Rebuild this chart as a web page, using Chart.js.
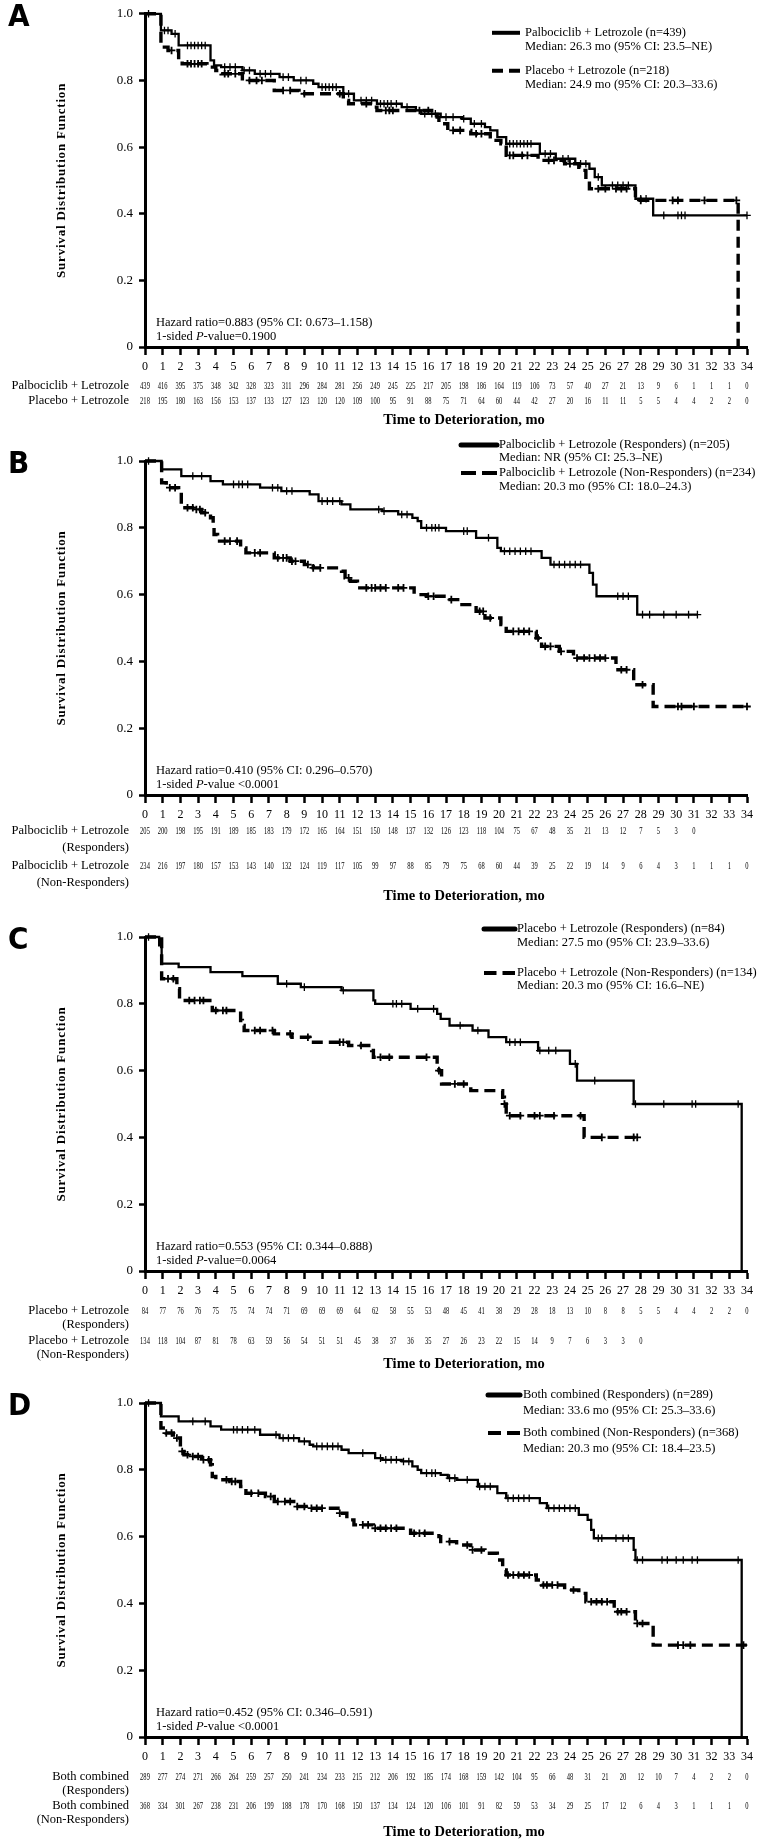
<!DOCTYPE html>
<html>
<head>
<meta charset="utf-8">
<script src="https://cdn.jsdelivr.net/npm/chart.js@4.4.1/dist/chart.umd.min.js"></script>
<style>
  body { margin: 0; background: #fff; }
  #wrap { position: relative; width: 761px; height: 1843px; }
  canvas { position: absolute; left: 0; }
</style>
</head>
<body>
<div id="wrap">
  <canvas id="cA"></canvas>
  <canvas id="cB"></canvas>
  <canvas id="cC"></canvas>
  <canvas id="cD"></canvas>
</div>
<script>
// tick labels of the time axis (months)
const months = [0,1,2,3,4,5,6,7,8,9,10,11,12,13,14,15,16,17,18,19,20,21,22,23,24,25,26,27,28,29,30,31,32,33,34];
const survTicks = [0, 0.2, 0.4, 0.6, 0.8, 1.0];

// ---- Panel A : Palbociclib + Letrozole vs Placebo + Letrozole
const aPalT = [0, 0.9, 1.5, 1.9, 3.7, 3.9, 4.3, 5.5, 6.2, 7.6, 8.4, 9.5, 9.8, 11.2, 11.8, 13.1, 14.5, 15.3, 15.6, 16.7, 17.9, 18.4, 19.2, 19.5, 19.9, 20.4, 22.3, 23.2, 24.3, 25.1, 25.4, 25.8, 27.7, 28.7, 34];
const aPalS = [1, 0.95, 0.94, 0.905, 0.86, 0.845, 0.84, 0.83, 0.82, 0.81, 0.80, 0.79, 0.78, 0.76, 0.74, 0.73, 0.72, 0.71, 0.70, 0.69, 0.685, 0.67, 0.66, 0.65, 0.63, 0.61, 0.58, 0.565, 0.55, 0.535, 0.51, 0.485, 0.445, 0.395, 0.395];
const aPalC = [0.2, 1.1, 1.3, 1.7, 2.4, 2.6, 2.8, 3.0, 3.2, 3.4, 4.5, 4.8, 5.1, 5.6, 5.9, 6.5, 6.8, 7.1, 7.8, 8.1, 8.8, 9.1, 10.0, 10.2, 10.4, 10.6, 10.8, 11.5, 12.2, 12.5, 12.8, 13.3, 13.5, 13.7, 13.9, 14.2, 14.8, 15.8, 16.2, 16.4, 17.0, 17.4, 18.0, 18.6, 19.0, 20.6, 20.8, 21.0, 21.2, 21.4, 21.6, 21.8, 22.6, 22.9, 23.6, 23.9, 24.6, 24.9, 25.6, 26.4, 26.7, 27.0, 27.3, 28.0, 28.3, 29.3, 30.1, 30.3, 30.5, 34.0];
const aPlaT = [0, 0.9, 1.3, 1.9, 2.1, 3.5, 4.0, 4.3, 5.5, 7.3, 8.7, 11.2, 11.5, 12.9, 13.1, 16.5, 16.6, 17.1, 18.4, 19.5, 20.1, 20.4, 22.2, 23.7, 24.5, 24.9, 25.1, 27.7, 33.5];
const aPlaS = [1, 0.90, 0.89, 0.86, 0.85, 0.84, 0.83, 0.82, 0.80, 0.77, 0.76, 0.74, 0.73, 0.72, 0.71, 0.69, 0.67, 0.65, 0.64, 0.62, 0.61, 0.575, 0.56, 0.55, 0.53, 0.50, 0.475, 0.44, 0];
const aPlaC = [1.5, 2.4, 2.6, 2.8, 3.0, 3.2, 4.5, 4.7, 5.1, 5.9, 6.3, 6.6, 7.8, 8.2, 9.0, 11.0, 12.5, 13.6, 13.8, 14.0, 15.5, 16.0, 17.4, 17.8, 18.7, 19.0, 20.6, 20.8, 21.3, 21.6, 22.8, 23.1, 24.0, 25.6, 26.0, 26.6, 26.9, 27.2, 28.0, 29.8, 30.1, 31.6, 33.4];
const aRiskPal = [439,416,395,375,348,342,328,323,311,296,284,281,256,249,245,225,217,205,198,186,164,119,106,73,57,40,27,21,13,9,6,1,1,1,0];
const aRiskPla = [218,195,180,163,156,153,137,133,127,123,120,120,109,100,95,91,88,75,71,64,60,44,42,27,20,16,11,11,5,5,4,4,2,2,0];

// ---- Panel B : Palbociclib + Letrozole, responders vs non-responders
const bRespT = [0, 0.94, 2.05, 3.7, 4.4, 6.5, 7.7, 9.3, 9.8, 11.1, 11.6, 13.4, 14.3, 15.1, 15.4, 15.6, 17.0, 18.7, 19.9, 20.1, 22.4, 22.9, 25.1, 25.3, 25.5, 27.8, 31.2];
const bRespS = [1, 0.975, 0.955, 0.94, 0.93, 0.92, 0.91, 0.90, 0.88, 0.87, 0.855, 0.85, 0.84, 0.83, 0.82, 0.80, 0.79, 0.77, 0.74, 0.73, 0.71, 0.69, 0.665, 0.63, 0.595, 0.54, 0.54];
const bRespC = [0.2, 2.7, 3.2, 5.0, 5.3, 5.5, 5.8, 7.2, 7.5, 8.0, 8.3, 10.0, 10.3, 10.6, 11.0, 13.2, 13.5, 14.5, 14.8, 15.9, 16.2, 16.4, 16.6, 18.0, 18.2, 19.4, 20.3, 20.6, 20.9, 21.2, 21.5, 21.8, 23.1, 23.4, 23.7, 24.0, 24.3, 24.6, 26.7, 27.0, 27.3, 28.1, 28.5, 29.3, 30.0, 30.7, 31.2];
const bNonT = [0, 0.94, 1.2, 1.9, 2.05, 2.9, 3.2, 3.7, 3.85, 3.9, 4.1, 5.4, 5.7, 7.3, 8.2, 9.0, 9.5, 11.1, 11.3, 11.6, 12.0, 15.2, 15.9, 17.1, 17.9, 18.7, 19.2, 20.1, 20.4, 22.1, 22.4, 23.4, 24.2, 26.6, 27.6, 28.7, 34];
const bNonS = [1, 0.935, 0.92, 0.91, 0.86, 0.855, 0.845, 0.83, 0.81, 0.78, 0.76, 0.74, 0.725, 0.71, 0.70, 0.69, 0.68, 0.67, 0.65, 0.64, 0.62, 0.60, 0.595, 0.585, 0.57, 0.55, 0.53, 0.51, 0.49, 0.47, 0.445, 0.43, 0.41, 0.375, 0.33, 0.265, 0.265];
const bNonC = [1.4, 1.7, 2.4, 2.7, 2.9, 3.1, 3.4, 4.5, 4.8, 5.2, 6.2, 6.5, 7.5, 7.8, 8.0, 8.3, 8.5, 9.2, 9.5, 9.9, 11.5, 12.5, 12.8, 13.0, 13.3, 13.6, 14.3, 14.6, 16.0, 16.3, 17.3, 18.9, 19.1, 19.5, 20.8, 21.1, 21.4, 21.7, 22.2, 22.6, 22.9, 23.5, 24.4, 24.8, 25.1, 25.4, 25.7, 26.0, 26.9, 27.2, 28.1, 30.1, 30.3, 31.0, 34.0];
const bRiskResp = [205,200,198,195,191,189,185,183,179,172,165,164,151,150,148,137,132,126,123,118,104,75,67,48,35,21,13,12,7,5,3,0];
const bRiskNon = [234,216,197,180,157,153,143,140,132,124,119,117,105,99,97,88,85,79,75,68,60,44,39,25,22,19,14,9,6,4,3,1,1,1,0];

// ---- Panel C : Placebo + Letrozole, responders vs non-responders
const cRespT = [0, 0.8, 0.94, 1.9, 3.7, 5.5, 7.5, 8.8, 11.1, 12.9, 13.0, 15.0, 16.5, 16.7, 17.2, 18.5, 19.4, 20.4, 22.2, 24.0, 24.4, 27.6, 33.7];
const cRespS = [1, 0.975, 0.92, 0.91, 0.895, 0.883, 0.86, 0.85, 0.84, 0.81, 0.80, 0.785, 0.77, 0.755, 0.735, 0.72, 0.70, 0.685, 0.66, 0.62, 0.57, 0.50, 0];
const cRespC = [0.2, 8.0, 9.0, 11.2, 14.0, 14.2, 14.5, 15.4, 16.3, 17.8, 18.8, 20.6, 20.9, 21.2, 22.3, 22.8, 23.2, 24.3, 25.4, 27.7, 29.3, 30.9, 31.1, 33.5];
const cNonT = [0, 0.94, 1.8, 1.95, 3.8, 5.4, 5.5, 5.6, 7.3, 8.3, 9.3, 11.5, 12.8, 12.9, 16.5, 16.6, 16.75, 18.4, 20.2, 20.3, 20.4, 24.8, 27.8];
const cNonS = [1, 0.875, 0.845, 0.81, 0.78, 0.75, 0.735, 0.72, 0.71, 0.70, 0.685, 0.675, 0.66, 0.64, 0.62, 0.60, 0.56, 0.54, 0.52, 0.50, 0.465, 0.40, 0.40];
const cNonC = [1.3, 1.6, 2.5, 2.8, 3.1, 3.3, 4.0, 4.4, 4.6, 6.2, 6.5, 7.2, 8.2, 9.2, 11.0, 11.2, 12.2, 13.3, 13.8, 15.9, 16.6, 17.5, 18.0, 20.3, 20.6, 21.2, 22.0, 22.3, 23.1, 24.6, 25.8, 27.6, 27.8];
const cRiskResp = [84,77,76,76,75,75,74,74,71,69,69,69,64,62,58,55,53,48,45,41,38,29,28,18,13,10,8,8,5,5,4,4,2,2,0];
const cRiskNon = [134,118,104,87,81,78,63,59,56,54,51,51,45,38,37,36,35,27,26,23,22,15,14,9,7,6,3,3,0];

// ---- Panel D : both arms combined, responders vs non-responders
const dRespT = [0, 0.9, 1.9, 3.7, 4.3, 6.5, 7.6, 8.7, 9.3, 9.5, 11.1, 11.5, 13.0, 13.4, 14.5, 15.1, 15.4, 15.6, 16.7, 17.1, 17.6, 18.8, 19.9, 20.4, 22.3, 22.7, 24.5, 25.0, 25.2, 25.35, 27.6, 27.7, 33.7];
const dRespS = [1, 0.96, 0.945, 0.93, 0.92, 0.905, 0.895, 0.885, 0.875, 0.87, 0.86, 0.85, 0.835, 0.83, 0.825, 0.81, 0.80, 0.79, 0.785, 0.775, 0.77, 0.75, 0.73, 0.715, 0.70, 0.685, 0.665, 0.65, 0.62, 0.595, 0.56, 0.53, 0];
const dRespC = [0.2, 2.7, 3.4, 5.0, 5.2, 5.5, 5.8, 6.2, 7.4, 7.8, 8.1, 8.4, 9.0, 9.7, 10.0, 10.3, 10.6, 10.9, 12.3, 13.3, 13.6, 13.9, 14.2, 14.6, 14.9, 15.9, 16.2, 16.4, 17.2, 17.5, 18.2, 18.9, 19.2, 19.5, 20.5, 20.8, 21.1, 21.4, 21.7, 22.8, 23.1, 23.4, 23.7, 24.0, 24.3, 25.6, 25.8, 26.6, 27.0, 27.3, 27.8, 28.1, 29.2, 29.5, 30.0, 30.4, 30.9, 31.2, 33.5];
const dNonT = [0, 0.9, 1.2, 1.6, 2.0, 2.2, 2.5, 3.2, 3.7, 3.8, 4.0, 4.8, 5.4, 5.7, 6.8, 7.3, 8.4, 9.1, 10.9, 11.4, 11.8, 12.9, 15.0, 16.6, 16.7, 17.6, 18.4, 19.2, 19.9, 20.2, 20.4, 22.1, 22.4, 23.7, 24.5, 24.9, 26.5, 27.7, 28.7, 34];
const dNonS = [1, 0.925, 0.91, 0.895, 0.855, 0.845, 0.84, 0.83, 0.815, 0.78, 0.77, 0.765, 0.75, 0.73, 0.72, 0.705, 0.69, 0.685, 0.67, 0.65, 0.635, 0.625, 0.61, 0.60, 0.585, 0.575, 0.56, 0.55, 0.53, 0.50, 0.485, 0.47, 0.455, 0.44, 0.43, 0.405, 0.375, 0.34, 0.275, 0.275];
const dNonC = [1.2, 1.5, 1.8, 2.1, 2.4, 2.7, 3.0, 3.3, 3.6, 4.6, 4.9, 5.1, 6.0, 6.4, 7.1, 7.5, 7.9, 8.2, 8.6, 9.0, 9.4, 9.7, 10.0, 11.0, 12.3, 12.6, 13.0, 13.3, 13.6, 13.9, 14.2, 15.2, 15.5, 15.8, 17.2, 18.2, 18.5, 19.0, 20.5, 20.8, 21.1, 21.4, 21.7, 22.5, 22.7, 23.0, 23.3, 24.2, 25.2, 25.5, 25.8, 26.1, 26.7, 26.9, 27.2, 27.8, 28.1, 30.1, 30.4, 30.8, 33.8];
const dRiskResp = [289,277,274,271,266,264,259,257,250,241,234,233,215,212,206,192,185,174,168,159,142,104,95,66,48,31,21,20,12,10,7,4,2,2,0];
const dRiskNon = [368,334,301,267,238,231,206,199,188,178,170,168,150,137,134,124,120,106,101,91,82,59,53,34,29,25,17,12,6,4,3,1,1,1,0];

const SERIF = '"Liberation Serif", "Times New Roman", Times, serif';

function kmPoints(ts, ss) {
  return ts.map((t, i) => ({ x: t, y: ss[i] }));
}
// value of the step curve at time t (for placing censor marks on it)
function survAt(ts, ss, t) {
  let v = ss[0];
  for (let i = 0; i < ts.length; i++) if (ts[i] <= t) v = ss[i];
  return v;
}
function censorPoints(ts, ss, cs) {
  return cs.map(t => ({ x: t, y: survAt(ts, ss, t) }));
}

// text around each panel: letter, legend, hazard ratio, numbers at risk, axis titles
const kmText = {
  id: 'kmText',
  afterDraw(chart, args, o) {
    const ctx = chart.ctx, a = chart.chartArea, xs = chart.scales.x;
    ctx.save();
    ctx.fillStyle = '#000';
    ctx.strokeStyle = '#000';

    ctx.font = 'bold 31px "Liberation Sans Narrow", "DejaVu Sans Condensed", "Liberation Sans", sans-serif';
    ctx.textAlign = 'left';
    ctx.textBaseline = 'middle';
    ctx.fillText(o.letter, 8, a.top + 4);

    ctx.save();
    ctx.translate(62, (a.top + a.bottom) / 2);
    ctx.rotate(-Math.PI / 2);
    ctx.font = 'bold 13px ' + SERIF;
    ctx.textAlign = 'center';
    ctx.letterSpacing = '0.8px';
    ctx.fillText('Survival Distribution Function', 0, 0);
    ctx.restore();

    // legend
    const L = o.legend;
    const ys = L.ys.map(v => a.top + v);
    ctx.setLineDash([]);
    ctx.lineWidth = L.bar;
    ctx.lineCap = L.cap;
    ctx.beginPath();
    ctx.moveTo(L.x0, ys[0]); ctx.lineTo(L.x1, ys[0]);
    ctx.stroke();
    const d = (L.x1 - L.x0 - 6) / 2;
    ctx.lineWidth = 4;
    ctx.lineCap = 'butt';
    ctx.beginPath();
    ctx.moveTo(L.x0, ys[2]); ctx.lineTo(L.x0 + d, ys[2]);
    ctx.moveTo(L.x1 - d, ys[2]); ctx.lineTo(L.x1, ys[2]);
    ctx.stroke();
    ctx.font = '12.5px ' + SERIF;
    o.legendText.forEach((t, i) => ctx.fillText(t, L.tx, ys[i]));

    // hazard ratio
    let hx = 156;
    const hy = a.bottom - 10;
    ctx.fillText(o.hr, hx, a.bottom - 24);
    const parts = [['1-sided ', ''], ['P', 'italic '], [o.pval, '']];
    parts.forEach(([t, st]) => {
      ctx.font = st + '12.5px ' + SERIF;
      ctx.fillText(t, hx, hy);
      hx += ctx.measureText(t).width;
    });

    // numbers at risk
    o.rows.forEach((row, r) => {
      const y = a.bottom + o.rowDy[r];
      ctx.font = '12.5px ' + SERIF;
      ctx.textAlign = 'right';
      row.label.forEach((ln, k) => ctx.fillText(ln, 129, y + k * o.lineGap));
      ctx.font = '10.5px ' + SERIF;
      ctx.textAlign = 'center';
      row.values.forEach((v, i) => {
        const px = xs.getPixelForValue(months[i]);
        ctx.save();
        ctx.translate(px, y);
        ctx.scale(0.62, 1);
        ctx.fillText(String(v), 0, 0);
        ctx.restore();
      });
    });

    ctx.font = 'bold 14.5px ' + SERIF;
    ctx.textAlign = 'center';
    ctx.fillText('Time to Deterioration, mo', 464, a.bottom + o.titleDy);
    ctx.restore();
  }
};

function makePanel(id, top, height, padTop, p) {
  const cv = document.getElementById(id);
  cv.width = 761; cv.height = height;
  cv.style.top = top + 'px';
  cv.style.width = '761px'; cv.style.height = height + 'px';
  const axisH = height - padTop - 334;
  return new Chart(cv, {
    type: 'line',
    data: {
      datasets: [
        { data: kmPoints(p.t1, p.s1), stepped: true, borderColor: '#000', borderWidth: 2.3, pointRadius: 0, fill: false, clip: false },
        { data: kmPoints(p.t2, p.s2), stepped: true, borderColor: '#000', borderWidth: 3.4, borderDash: [11, 6], pointRadius: 0, fill: false, clip: false },
        { data: censorPoints(p.t1, p.s1, p.c1), showLine: false, pointStyle: 'cross', pointRadius: 3.8, borderWidth: 1.3, borderColor: '#000', clip: false },
        { data: censorPoints(p.t2, p.s2, p.c2), showLine: false, pointStyle: 'cross', pointRadius: 3.8, borderWidth: 1.8, borderColor: '#000', clip: false }
      ]
    },
    options: {
      responsive: false,
      animation: false,
      devicePixelRatio: 1,
      layout: { padding: { top: padTop, right: 14, left: 0, bottom: 0 } },
      plugins: { legend: { display: false }, tooltip: { enabled: false }, kmText: p.text },
      scales: {
        x: {
          type: 'linear', min: 0, max: 34,
          afterBuildTicks: s => { s.ticks = months.map(v => ({ value: v })); },
          afterFit: s => { s.height = axisH; },
          ticks: { autoSkip: false, maxRotation: 0, padding: 5, color: '#000', font: { family: SERIF, size: 12 } },
          grid: { drawOnChartArea: false, tickLength: 8, tickWidth: 2.5, tickColor: '#000' },
          border: { color: '#000', width: 3 }
        },
        y: {
          min: 0, max: 1,
          afterBuildTicks: s => { s.ticks = survTicks.map(v => ({ value: v })); },
          afterFit: s => { s.width = 145; },
          ticks: { padding: 6, color: '#000', font: { family: SERIF, size: 13 },
                   callback: v => (v === 0 ? '0' : v.toFixed(1)) },
          grid: { drawOnChartArea: false, tickLength: 6, tickWidth: 2.5, tickColor: '#000' },
          border: { color: '#000', width: 3 }
        }
      }
    },
    plugins: [kmText]
  });
}

makePanel('cA', 0, 431, 13, {
  t1: aPalT, s1: aPalS, c1: aPalC, t2: aPlaT, s2: aPlaS, c2: aPlaC,
  text: {
    letter: 'A',
    legend: { x0: 492, x1: 520, tx: 525, bar: 4, cap: 'butt', ys: [19, 33, 57, 71] },
    legendText: ['Palbociclib + Letrozole (n=439)', 'Median: 26.3 mo (95% CI: 23.5\u2013NE)',
                 'Placebo + Letrozole (n=218)', 'Median: 24.9 mo (95% CI: 20.3\u201333.6)'],
    hr: 'Hazard ratio=0.883 (95% CI: 0.673\u20131.158)', pval: '-value=0.1900',
    rows: [{ label: ['Palbociclib + Letrozole'], values: aRiskPal },
           { label: ['Placebo + Letrozole'], values: aRiskPla }],
    rowDy: [39, 54], lineGap: 14, titleDy: 73
  }
});

makePanel('cB', 431, 486, 30, {
  t1: bRespT, s1: bRespS, c1: bRespC, t2: bNonT, s2: bNonS, c2: bNonC,
  text: {
    letter: 'B',
    legend: { x0: 461, x1: 497, tx: 499, bar: 5, cap: 'round', ys: [-16, -3, 12, 26] },
    legendText: ['Palbociclib + Letrozole (Responders) (n=205)', 'Median: NR (95% CI: 25.3\u2013NE)',
                 'Palbociclib + Letrozole (Non-Responders) (n=234)', 'Median: 20.3 mo (95% CI: 18.0\u201324.3)'],
    hr: 'Hazard ratio=0.410 (95% CI: 0.296\u20130.570)', pval: '-value <0.0001',
    rows: [{ label: ['Palbociclib + Letrozole', '(Responders)'], values: bRiskResp },
           { label: ['Palbociclib + Letrozole', '(Non-Responders)'], values: bRiskNon }],
    rowDy: [36, 71], lineGap: 17, titleDy: 101
  }
});

makePanel('cC', 917, 466, 20, {
  t1: cRespT, s1: cRespS, c1: cRespC, t2: cNonT, s2: cNonS, c2: cNonC,
  text: {
    letter: 'C',
    legend: { x0: 484, x1: 515, tx: 517, bar: 5, cap: 'round', ys: [-8, 6, 36, 49] },
    legendText: ['Placebo + Letrozole (Responders) (n=84)', 'Median: 27.5 mo (95% CI: 23.9\u201333.6)',
                 'Placebo + Letrozole (Non-Responders) (n=134)', 'Median: 20.3 mo (95% CI: 16.6\u2013NE)'],
    hr: 'Hazard ratio=0.553 (95% CI: 0.344\u20130.888)', pval: '-value=0.0064',
    rows: [{ label: ['Placebo + Letrozole', '(Responders)'], values: cRiskResp },
           { label: ['Placebo + Letrozole', '(Non-Responders)'], values: cRiskNon }],
    rowDy: [40, 70], lineGap: 13.5, titleDy: 93
  }
});

makePanel('cD', 1383, 460, 20, {
  t1: dRespT, s1: dRespS, c1: dRespC, t2: dNonT, s2: dNonS, c2: dNonC,
  text: {
    letter: 'D',
    legend: { x0: 488, x1: 520, tx: 523, bar: 5, cap: 'round', ys: [-8, 8, 30, 46] },
    legendText: ['Both combined (Responders) (n=289)', 'Median: 33.6 mo (95% CI: 25.3\u201333.6)',
                 'Both combined (Non-Responders) (n=368)', 'Median: 20.3 mo (95% CI: 18.4\u201323.5)'],
    hr: 'Hazard ratio=0.452 (95% CI: 0.346\u20130.591)', pval: '-value <0.0001',
    rows: [{ label: ['Both combined', '(Responders)'], values: dRiskResp },
           { label: ['Both combined', '(Non-Responders)'], values: dRiskNon }],
    rowDy: [40, 69], lineGap: 13.5, titleDy: 95
  }
});
</script>
</body>
</html>
